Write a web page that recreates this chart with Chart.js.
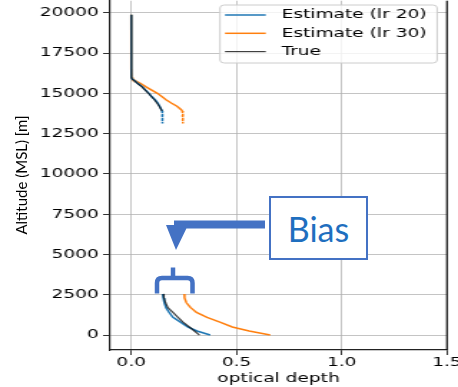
<!DOCTYPE html>
<html>
<head>
<meta charset="utf-8">
<script src="https://cdn.jsdelivr.net/npm/chart.js@4.4.0/dist/chart.umd.min.js"></script>
<style>
  html, body { margin: 0; padding: 0; background: #fff; }
  #page { position: relative; width: 458px; height: 387px; overflow: hidden; }
  /* the original figure was pasted in stretched sideways */
  #stretch { position: absolute; left: 0; top: 0; width: 320px; height: 387px; transform: scaleX(1.43125); transform-origin: 0 0; }
  #ylabel { position: absolute; left: 21px; top: 175px; transform: translate(-50%, -50%) rotate(-90deg); font: 15px Lato, sans-serif; white-space: nowrap; color: #000; }
  #bias { position: absolute; left: 269px; top: 196px; width: 99px; height: 64px; box-sizing: border-box; border: 2px solid #4472c4; background: #fff; color: #1f6fbf; font: 34px Lato, sans-serif; display: flex; align-items: center; justify-content: center; }
  svg { position: absolute; left: 0; top: 0; }
</style>
</head>
<body>
<div id="page">
  <div id="stretch"><canvas id="chart"></canvas></div>
  <div id="ylabel">Altitude (MSL) [m]</div>
  <svg width="458" height="387">
    <polygon points="265,220.5 174,220.5 174,225 166,225 176,250 186.4,228.6 265,228.6" fill="#4472c4"/>
    <path d="M157,293.5 L157,283 Q157,278 162,278 L187.5,278 Q192.5,278 192.5,283 L192.5,293.5" fill="none" stroke="#4472c4" stroke-width="4.5"/>
    <line x1="173" y1="267.5" x2="173" y2="278" stroke="#4472c4" stroke-width="4.5"/>
  </svg>
  <div id="bias">Bias</div>
</div>
<script>
// altitude levels [m]; the 8000 row is the gap between the two layers
const altitude = [19880, 18000, 16500, 16000, 15900, 15800, 15600, 15400, 15200, 15000,
                  14800, 14600, 14400, 14200, 14000, 13900, 13700, 13500, 13300, 13130,
                  8000,
                  2550, 2300, 2000, 1700, 1400, 1100, 800, 500, 250, 0];

const depthLr20 = [0, 0, 0, 0.001, 0.004, 0.015, 0.033, 0.054, 0.068, 0.084,
                   0.097, 0.113, 0.126, 0.135, 0.143, 0.147, 0.148, 0.148, 0.148, 0.148,
                   null,
                   0.150, 0.152, 0.157, 0.165, 0.180, 0.198, 0.234, 0.268, 0.312, 0.375];

const depthLr30 = [0, 0, 0, 0.002, 0.006, 0.016, 0.045, 0.070, 0.097, 0.124,
                   0.145, 0.165, 0.190, 0.217, 0.236, 0.243, 0.245, 0.245, 0.245, 0.245,
                   null,
                   0.252, 0.253, 0.262, 0.282, 0.310, 0.360, 0.421, 0.480, 0.560, 0.660];

const depthTrue = [0, 0, 0, 0.001, 0.003, 0.012, 0.030, 0.050, 0.066, 0.082,
                   0.095, 0.110, 0.122, 0.133, 0.142, 0.146, null, null, null, null,
                   null,
                   0.152, 0.155, 0.163, 0.174, 0.198, 0.222, 0.246, 0.276, 0.300, 0.324];

const seriesNames = ["Estimate (lr 20)", "Estimate (lr 30)", "True"];
const xTicks = [0, 0.5, 1.0, 1.5];
const yTicks = [0, 2500, 5000, 7500, 10000, 12500, 15000, 17500, 20000];

const tickFont = { family: "DejaVu Sans", size: 13 };

function points(depth) {
    return altitude.map((a, i) => ({ x: depth[i], y: a }));
}

// the lower end of the upper layer is drawn broken
const dashedTail = ctx => (ctx.p0.parsed.y <= 13900 && ctx.p0.parsed.y > 10000) ? [2, 2] : undefined;

// right spine
const frame = {
    id: "frame",
    afterDraw(chart) {
        const { ctx, chartArea: a } = chart;
        ctx.save();
        ctx.strokeStyle = "#111";
        ctx.lineWidth = 1.2;
        ctx.beginPath();
        ctx.moveTo(a.right, a.top);
        ctx.lineTo(a.right, a.bottom);
        ctx.stroke();
        ctx.restore();
    }
};

// legend box inside the plot, top right
const boxLegend = {
    id: "boxLegend",
    afterDatasetsDraw(chart) {
        const { ctx, chartArea: a } = chart;
        const left = a.right - 158.6, top = 5, w = 151.7, h = 58;
        ctx.save();
        ctx.fillStyle = "rgba(255,255,255,0.8)";
        ctx.strokeStyle = "#cccccc";
        ctx.lineWidth = 1;
        ctx.beginPath();
        ctx.roundRect(left, top, w, h, 3);
        ctx.fill();
        ctx.stroke();
        ctx.font = "13px 'DejaVu Sans'";
        ctx.textBaseline = "middle";
        ctx.fillStyle = "#000";
        chart.data.datasets.forEach((ds, i) => {
            const y = top + 10 + i * 18.3;
            ctx.strokeStyle = ds.borderColor;
            ctx.lineWidth = ds.borderWidth;
            ctx.beginPath();
            ctx.moveTo(left + 3.5, y);
            ctx.lineTo(left + 32, y);
            ctx.stroke();
            ctx.fillText(ds.label, left + 43, y);
        });
        ctx.restore();
    }
};

new Chart(document.getElementById("chart"), {
    type: "line",
    data: {
        datasets: [
            { label: seriesNames[0], data: points(depthLr20), borderColor: "#1f77b4", borderWidth: 1.5, order: 1, segment: { borderDash: dashedTail } },
            { label: seriesNames[1], data: points(depthLr30), borderColor: "#ff7f0e", borderWidth: 1.5, order: 2, segment: { borderDash: dashedTail } },
            { label: seriesNames[2], data: points(depthTrue), borderColor: "rgba(0,0,0,0.75)", borderWidth: 1.2, order: 0 }
        ]
    },
    options: {
        responsive: true,
        maintainAspectRatio: false,
        animation: false,
        spanGaps: false,
        elements: { point: { radius: 0 }, line: { tension: 0 } },
        layout: { padding: { left: 0, right: 7.7, top: 0, bottom: 0 } },
        plugins: { legend: { display: false }, tooltip: { enabled: false } },
        scales: {
            x: {
                type: "linear",
                min: -0.1,
                max: 1.5,
                afterBuildTicks: s => { s.ticks = xTicks.map(v => ({ value: v })); },
                afterFit: s => { s.height = 37; s.paddingLeft = 0; s.paddingRight = 0; },
                ticks: { font: tickFont, color: "#000", padding: 0, maxRotation: 0, autoSkip: false, callback: v => v.toFixed(1) },
                grid: { color: "rgba(176,176,176,0.75)", lineWidth: 1, tickLength: 5, tickColor: "#333" },
                border: { color: "#222", width: 1.2 },
                title: { display: true, text: "optical depth", font: tickFont, color: "#000", padding: { top: 0, bottom: 1 } }
            },
            y: {
                type: "linear",
                min: -929,
                max: 20743,
                afterBuildTicks: s => { s.ticks = yTicks.map(v => ({ value: v })); },
                afterFit: s => { s.width = 77; s.paddingTop = 0; s.paddingBottom = 0; },
                ticks: { font: tickFont, color: "#000", padding: 3, autoSkip: false, callback: v => String(v) },
                grid: { color: "rgba(176,176,176,0.75)", lineWidth: 1, tickLength: 5, tickColor: "#333" },
                border: { color: "#222", width: 1.2 }
            }
        }
    },
    plugins: [frame, boxLegend]
});
</script>
</body>
</html>
